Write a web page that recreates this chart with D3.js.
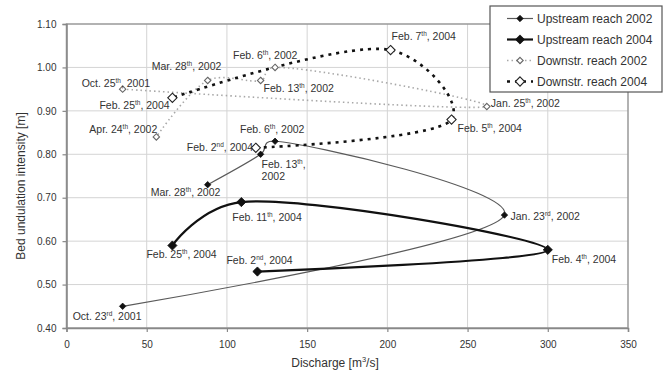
<!DOCTYPE html>
<html>
<head>
<meta charset="utf-8">
<script src="https://cdn.jsdelivr.net/npm/d3@7"></script>
<style>
  body { margin: 0; background: #fff; }
  svg { display: block; font-family: "Liberation Sans", Arial, sans-serif; }
  .grid line { stroke: #d4d4d4; stroke-width: 1; }
  .tick text { fill: #333; font-size: 10px; }
  .label { fill: #333; font-size: 10.5px; }
</style>
</head>
<body>
<div id="chart"></div>
<script>
// axis ticks
const xTicks = [0, 50, 100, 150, 200, 250, 300, 350];
const yTicks = [0.40, 0.50, 0.60, 0.70, 0.80, 0.90, 1.00, 1.10];

const seriesNames = ['Upstream reach 2002', 'Upstream reach 2004', 'Downstr. reach 2002', 'Downstr. reach 2004'];

// Upstream reach 2002
const up02Discharge = [35, 273, 130, 121, 88];
const up02Intensity = [0.45, 0.66, 0.83, 0.80, 0.73];
const up02Dates = ['Oct. 23rd, 2001', 'Jan. 23rd, 2002', 'Feb. 6th, 2002', 'Feb. 13th, 2002', 'Mar. 28th, 2002'];

// Upstream reach 2004
const up04Discharge = [119, 300, 109, 66];
const up04Intensity = [0.53, 0.58, 0.69, 0.59];
const up04Dates = ['Feb. 2nd, 2004', 'Feb. 4th, 2004', 'Feb. 11th, 2004', 'Feb. 25th, 2004'];

// Downstream reach 2002
const dn02Discharge = [35, 262, 130, 121, 88, 56];
const dn02Intensity = [0.95, 0.91, 1.00, 0.97, 0.97, 0.84];
const dn02Dates = ['Oct. 25th, 2001', 'Jan. 25th, 2002', 'Feb. 6th, 2002', 'Feb. 13th, 2002', 'Mar. 28th, 2002', 'Apr. 24th, 2002'];

// Downstream reach 2004
const dn04Discharge = [118, 240, 202, 66];
const dn04Intensity = [0.815, 0.88, 1.04, 0.93];
const dn04Dates = ['Feb. 2nd, 2004', 'Feb. 5th, 2004', 'Feb. 7th, 2004', 'Feb. 25th, 2004'];

const width = 668, height = 371;
const margin = { left: 66.5, right: 40, top: 24, bottom: 43 };

const x = d3.scaleLinear().domain([0, 350]).range([margin.left, width - margin.right]);
const y = d3.scaleLinear().domain([0.4, 1.1]).range([height - margin.bottom, margin.top]);

const svg = d3.select('#chart').append('svg')
    .attr('width', width)
    .attr('height', height);

svg.append('rect').attr('width', width).attr('height', height).attr('fill', '#fff');

// grid
const grid = svg.append('g').attr('class', 'grid');
grid.selectAll('.gx').data(xTicks.slice(1, -1)).enter().append('line')
    .attr('x1', d => x(d)).attr('x2', d => x(d))
    .attr('y1', y(1.1)).attr('y2', y(0.4));
grid.selectAll('.gy').data(yTicks.slice(1, -1)).enter().append('line')
    .attr('y1', d => y(d)).attr('y2', d => y(d))
    .attr('x1', x(0)).attr('x2', x(350));

// frame
svg.append('rect')
    .attr('x', x(0)).attr('y', y(1.1))
    .attr('width', x(350) - x(0)).attr('height', y(0.4) - y(1.1))
    .attr('fill', 'none').attr('stroke', '#999').attr('stroke-width', 1.5);

// axes
const xAxis = svg.append('g')
    .attr('transform', `translate(0,${y(0.4)})`)
    .call(d3.axisBottom(x).tickValues(xTicks).tickSize(4).tickPadding(9));
const yAxis = svg.append('g')
    .attr('transform', `translate(${x(0)},0)`)
    .call(d3.axisLeft(y).tickValues(yTicks).tickFormat(d3.format('.2f')).tickSize(4).tickPadding(6));
[xAxis, yAxis].forEach(a => {
    a.select('.domain').attr('stroke', '#888').attr('stroke-width', 1.5);
    a.selectAll('.tick line').attr('stroke', '#888').attr('stroke-width', 1.2);
    a.selectAll('.tick text').style('font-family', '"Liberation Sans", Arial, sans-serif');
});

// axis titles
const xt = svg.append('text')
    .attr('x', 335).attr('y', 367)
    .attr('text-anchor', 'middle')
    .attr('fill', '#333').style('font-size', '12px');
xt.append('tspan').text('Discharge [m');
xt.append('tspan').attr('dy', -5).style('font-size', '7.5px').text('3');
xt.append('tspan').attr('dy', 5).text('/s]');

svg.append('text')
    .attr('transform', 'translate(25,186) rotate(-90)')
    .attr('text-anchor', 'middle')
    .attr('fill', '#333').style('font-size', '12px')
    .text('Bed undulation intensity [m]');

const series = [
    { xs: up02Discharge, ys: up02Intensity, dates: up02Dates, stroke: '#5a5a5a', width: 1.2, dash: null, r: 3.2, open: false, mstroke: '#111',
      offs: [[-50, 14], [6, 5], [-35, -8], [1, 14], [-57, 11]], wrap: [3] },
    { xs: up04Discharge, ys: up04Intensity, dates: up04Dates, stroke: '#111', width: 2.2, dash: null, r: 4.6, open: false, mstroke: '#111',
      offs: [[-31, -8], [4, 13], [-9, 19], [-26, 13]], wrap: [] },
    { xs: dn02Discharge, ys: dn02Intensity, dates: dn02Dates, stroke: '#a8a8a8', width: 1.6, dash: '1.5,3', r: 3.2, open: true, mstroke: '#666',
      offs: [[-41, -2], [4, 0], [-42, -8], [3, 12], [-56, -10], [-67, -4]], wrap: [] },
    { xs: dn04Discharge, ys: dn04Intensity, dates: dn04Dates, stroke: '#111', width: 2.6, dash: '3,5', r: 4.6, open: true, mstroke: '#222',
      offs: [[-69, 3], [6, 12], [1, -10], [-73, 11]], wrap: [] },
];

const line = d3.line().x(d => x(d[0])).y(d => y(d[1])).curve(d3.curveCatmullRom.alpha(0.3));
const diamond = r => `M0,${-r}L${r},0L0,${r}L${-r},0Z`;

series.forEach(s => {
    const pts = s.xs.map((v, i) => [v, s.ys[i]]);
    svg.append('path')
        .datum(pts)
        .attr('d', line)
        .attr('fill', 'none')
        .attr('stroke', s.stroke)
        .attr('stroke-width', s.width)
        .attr('stroke-dasharray', s.dash);
});

series.forEach(s => {
    const pts = s.xs.map((v, i) => [v, s.ys[i]]);
    svg.append('g').selectAll('path').data(pts).enter().append('path')
        .attr('transform', d => `translate(${x(d[0])},${y(d[1])})`)
        .attr('d', diamond(s.r))
        .attr('fill', s.open ? '#fff' : s.mstroke)
        .attr('stroke', s.mstroke)
        .attr('stroke-width', s.open ? 1.1 : 0.8);
});

// date labels with superscript ordinal suffix
function dateLabel(g, txt, px, py, wrap) {
    const m = txt.match(/^(.*?\d+)(st|nd|rd|th)(,)\s*(.*)$/);
    const t = g.append('text').attr('class', 'label').attr('x', px).attr('y', py);
    t.append('tspan').text(m[1]);
    t.append('tspan').attr('dy', -4).style('font-size', '6.5px').text(m[2]);
    if (wrap) {
        t.append('tspan').attr('dy', 4).text(m[3]);
        t.append('tspan').attr('x', px).attr('dy', 11.5).text(m[4]);
    } else {
        t.append('tspan').attr('dy', 4).text(m[3] + ' ' + m[4]);
    }
}

const labels = svg.append('g');
series.forEach(s => {
    s.dates.forEach((d, i) => {
        dateLabel(labels, d, x(s.xs[i]) + s.offs[i][0], y(s.ys[i]) + s.offs[i][1], s.wrap.includes(i));
    });
});

// legend
const lg = svg.append('g');
lg.append('rect')
    .attr('x', 490).attr('y', 6).attr('width', 172).attr('height', 86)
    .attr('fill', '#fff').attr('stroke', '#555').attr('stroke-width', 1.2);
seriesNames.forEach((name, i) => {
    const s = series[i];
    const ly = 18.5 + i * 21;
    lg.append('line')
        .attr('x1', 507).attr('x2', 533).attr('y1', ly).attr('y2', ly)
        .attr('stroke', s.stroke).attr('stroke-width', s.width)
        .attr('stroke-dasharray', s.dash);
    lg.append('path')
        .attr('transform', `translate(520,${ly})`)
        .attr('d', diamond(s.r))
        .attr('fill', s.open ? '#fff' : s.mstroke)
        .attr('stroke', s.mstroke)
        .attr('stroke-width', s.open ? 1.1 : 0.8);
    lg.append('text')
        .attr('x', 537).attr('y', ly + 4.2)
        .attr('fill', '#333').style('font-size', '12px')
        .text(name);
});
</script>
</body>
</html>
